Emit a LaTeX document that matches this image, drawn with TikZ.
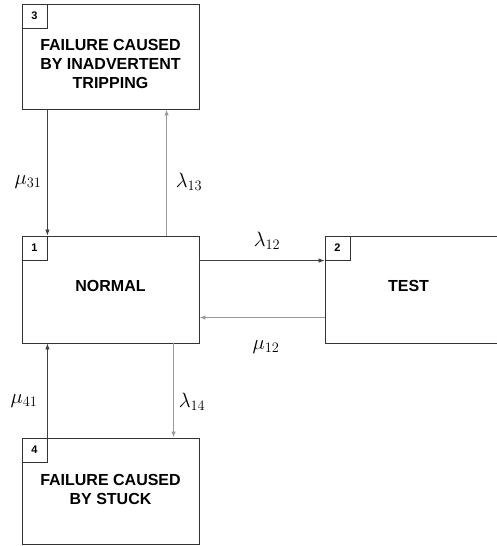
\documentclass[tikz,border=0pt]{standalone}
\usepackage{fontspec}
\setsansfont{Liberation Sans}
\usetikzlibrary{arrows.meta,calc}
\begin{document}
\begin{tikzpicture}[x=1pt,y=-1pt,
  box/.style={draw=black!80,line width=0.9pt,minimum width=177pt,inner sep=0pt,fill=white},
  numbox/.style={draw=black!80,line width=0.9pt,minimum width=25pt,minimum height=24pt,inner sep=0pt,anchor=north west,font=\sffamily\bfseries\fontsize{11}{12}\selectfont},
  boxtext/.style={font=\sffamily\bfseries\fontsize{16}{19}\selectfont,align=center},
  darr/.style={draw=black!75,line width=0.8pt,-{Latex[length=6pt,width=4.5pt]}},
  garr/.style={draw=black!40,line width=1pt,-{Latex[length=6pt,width=4.5pt]}},
  rate/.style={font=\fontsize{20}{24}\selectfont}]
\useasboundingbox (0,0) rectangle (497,546);
\clip (0,0) rectangle (497,546);
\fill[white] (0,0) rectangle (497,546);
% boxes
\node[box,minimum height=105pt,label={[boxtext,yshift=-7pt]center:FAILURE CAUSED\\BY INADVERTENT\\TRIPPING}] (b3) at (110.5,56.5) {};
\node[box,minimum height=107pt,label={[boxtext,yshift=4pt]center:NORMAL}] (b1) at (110.5,289.5) {};
\node[box,minimum height=107pt,label={[boxtext,xshift=-5pt,yshift=4pt]center:TEST}] (b2) at (413.5,289.5) {};
\node[box,minimum height=106pt,label={[boxtext,yshift=2pt]center:FAILURE CAUSED\\BY STUCK}] (b4) at (110.5,491) {};
% number boxes
\node[numbox] (n3) at (b3.north west) {3};
\node[numbox] (n1) at (b1.north west) {1};
\node[numbox] (n2) at (b2.north west) {2};
\node[numbox] (n4) at (b4.north west) {4};
% connectors
\coordinate (c13) at ($(b1.north west)+(145,0)$);
\coordinate (c14) at ($(b1.south west)+(152,0)$);
\coordinate (c12) at ($(b1.north east)+(0,25)$);
\coordinate (c21) at ($(b1.north east)+(0,82)$);
\draw[darr] (b3.south -| n3.east) -- (b1.north -| n3.east);
\draw[garr] (c13) -- (c13 |- b3.south);
\draw[darr] (c12) -- (c12 -| b2.west);
\draw[garr] (c21 -| b2.west) -- (c21);
\draw[darr] (b4.north -| n4.east) -- (b1.south -| n4.east);
\draw[garr] (c14) -- (c14 |- b4.north);
% labels
\node[rate] (l31) at (28,182) {$\mu_{31}$};
\node[rate] (l13) at (189,182) {$\lambda_{13}$};
\node[rate] (l12) at (267,241) {$\lambda_{12}$};
\node[rate] (m12) at (266,347) {$\mu_{12}$};
\node[rate] (l41) at (24,401) {$\mu_{41}$};
\node[rate] (l14) at (192,402) {$\lambda_{14}$};
\end{tikzpicture}
\end{document}
